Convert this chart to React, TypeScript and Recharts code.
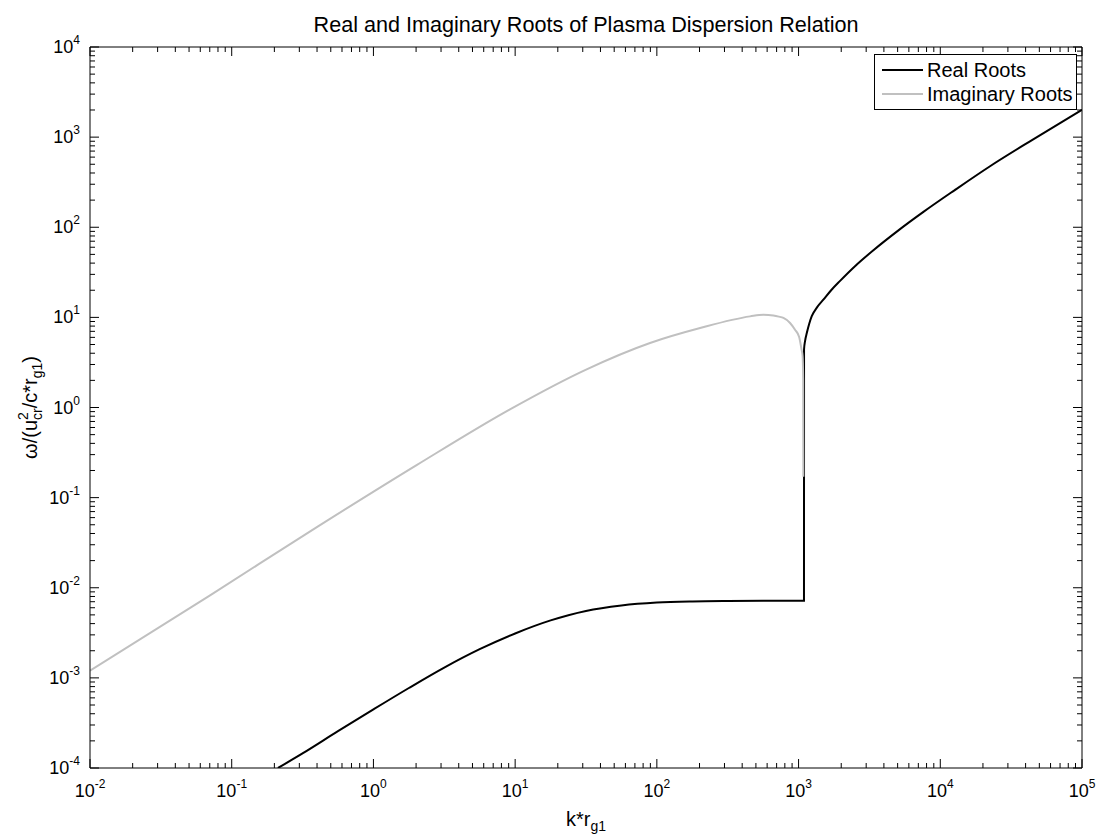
import { LineChart, Line, XAxis, YAxis, Legend } from 'recharts';

// Real roots (black): k*r_g1 and omega
const realK = [0.212, 0.316, 0.562, 1, 1.78, 3.16, 5.62, 10, 17.8, 31.6, 56.2, 100, 178, 316, 562, 1000, 1092, 1093, 1112, 1143, 1189, 1239, 1349, 1496, 1698, 1963, 2512, 3373, 5012, 7603, 12590, 22440, 44670, 100000];
const realW = [1.0e-4, 1.45e-4, 2.56e-4, 4.47e-4, 7.72e-4, 1.3e-3, 2.08e-3, 3.11e-3, 4.34e-3, 5.53e-3, 6.35e-3, 6.84e-3, 7.05e-3, 7.13e-3, 7.16e-3, 7.18e-3, 7.18e-3, 4.4, 5.5, 6.7, 8.5, 10.3, 12.9, 15.7, 20.0, 25.4, 37.2, 55.6, 91.2, 148, 257, 475, 933, 2010];

// Imaginary roots (grey)
const imagK = [0.01, 0.0708, 0.404, 2.03, 9.06, 31.4, 89.5, 202, 455, 565, 664, 725, 782, 871, 944, 1008, 1050, 1068, 1078, 1081];
const imagW = [1.2e-3, 8.3e-3, 0.0477, 0.231, 0.942, 2.62, 5.2, 7.62, 10.26, 10.7, 10.5, 10.2, 9.85, 8.67, 7.3, 6.1, 4.38, 3.7, 2.03, 0.17];

const seriesNames = ['Real Roots', 'Imaginary Roots'];

// axis decades and minor multipliers
const xDecades = [-2, -1, 0, 1, 2, 3, 4, 5];
const yDecades = [-4, -3, -2, -1, 0, 1, 2, 3, 4];
const minorSteps = [2, 3, 4, 5, 6, 7, 8, 9];

const realData = realK.map((k, i) => ({ k, v: realW[i] }));
const imagData = imagK.map((k, i) => ({ k, v: imagW[i] }));

function buildTicks(decades: number[]) {
  const out: number[] = [];
  decades.forEach((d, i) => {
    out.push(Math.pow(10, d));
    if (i < decades.length - 1) minorSteps.forEach((m) => out.push(m * Math.pow(10, d)));
  });
  return out;
}
const xTicks = buildTicks(xDecades);
const yTicks = buildTicks(yDecades);

const FONT = '"Liberation Sans", Arial, Helvetica, sans-serif';
const MAJOR = 9;
const MINOR = 5;

const isMajor = (v: number) => Math.abs(Math.log10(v) - Math.round(Math.log10(v))) < 1e-6;
const expOf = (v: number) => String(Math.round(Math.log10(v)));

const BottomTick = (props: any) => {
  const { x, y, payload } = props;
  const major = isMajor(payload.value);
  return (
    <g>
      <line x1={x} x2={x} y1={y} y2={y - (major ? MAJOR : MINOR)} stroke="#000" />
      {major && (
        <text x={x} y={y + 29} textAnchor="middle" fontSize={18} fontFamily={FONT} fill="#000">
          10<tspan dy={-9} fontSize={12}>{expOf(payload.value)}</tspan>
        </text>
      )}
    </g>
  );
};

const TopTick = (props: any) => {
  const { x, y, payload } = props;
  const major = isMajor(payload.value);
  return <line x1={x} x2={x} y1={y} y2={y + (major ? MAJOR : MINOR)} stroke="#000" />;
};

const LeftTick = (props: any) => {
  const { x, y, payload } = props;
  const major = isMajor(payload.value);
  return (
    <g>
      <line x1={x} x2={x + (major ? MAJOR : MINOR)} y1={y} y2={y} stroke="#000" />
      {major && (
        <text x={x - 10} y={y + 6} textAnchor="end" fontSize={18} fontFamily={FONT} fill="#000">
          10<tspan dy={-9} fontSize={12}>{expOf(payload.value)}</tspan>
        </text>
      )}
    </g>
  );
};

const RightTick = (props: any) => {
  const { x, y, payload } = props;
  const major = isMajor(payload.value);
  return <line x1={x} x2={x - (major ? MAJOR : MINOR)} y1={y} y2={y} stroke="#000" />;
};

const renderTitle = (props: any) => {
  const vb = props.viewBox || { x: 90, width: 992 };
  return (
    <text x={vb.x + vb.width / 2} y={32} textAnchor="middle" fontSize={21.6} fontFamily={FONT} fill="#000">
      Real and Imaginary Roots of Plasma Dispersion Relation
    </text>
  );
};

const renderXLabel = (props: any) => {
  const vb = props.viewBox || { x: 90, width: 992 };
  return (
    <text x={vb.x + vb.width / 2} y={826} textAnchor="middle" fontSize={20} fontFamily={FONT} fill="#000">
      k*r<tspan dy={5} fontSize={14}>g1</tspan>
    </text>
  );
};

const renderYLabel = (props: any) => {
  const vb = props.viewBox || { y: 47, height: 721 };
  const cy = vb.y + vb.height / 2;
  const cx = 37;
  return (
    <text x={cx} y={cy} transform={`rotate(-90 ${cx} ${cy})`} textAnchor="middle" fontSize={20} fontFamily={FONT} fill="#000">
      ω/(u<tspan dy={-9} fontSize={14}>2</tspan>
      <tspan dx={-7.8} dy={14} fontSize={14}>cr</tspan>
      <tspan dy={-5}>/c*r</tspan>
      <tspan dy={5} fontSize={14}>g1</tspan>
      <tspan dy={-5}>)</tspan>
    </text>
  );
};

const renderLegend = (props: any) => {
  const items = [...(props.payload || [])]
    .filter((p: any) => seriesNames.includes(p.value))
    .sort((a: any, b: any) => seriesNames.indexOf(a.value) - seriesNames.indexOf(b.value));
  return (
    <div
      style={{
        width: 203,
        height: 56,
        boxSizing: 'border-box',
        border: '1px solid #000',
        background: '#fff',
        fontFamily: FONT,
        fontSize: 20,
        paddingTop: 3,
      }}
    >
      {items.map((it: any) => (
        <div key={it.value} style={{ display: 'flex', alignItems: 'center', height: 24 }}>
          <svg width={52} height={24}>
            <line x1={7} x2={48} y1={12} y2={12} stroke={it.color} strokeWidth={2} />
          </svg>
          <span style={{ lineHeight: '24px' }}>{it.value}</span>
        </div>
      ))}
    </div>
  );
};

export default function App() {
  return (
    <div style={{ position: 'absolute', left: 0, top: 0, width: 1108, height: 840, background: '#fff' }}>
      <LineChart width={1108} height={840} margin={{ top: 46, right: 25, bottom: 42, left: 30 }}>
        <XAxis
          dataKey="k"
          type="number"
          scale="log"
          domain={[0.01, 100000]}
          allowDataOverflow
          ticks={xTicks}
          interval={0}
          tickSize={0}
          tickMargin={0}
          tickLine={false}
          tick={<BottomTick />}
          axisLine={{ stroke: '#000' }}
          height={30}
          label={renderXLabel}
        />
        <XAxis
          xAxisId="top"
          orientation="top"
          dataKey="k"
          type="number"
          scale="log"
          domain={[0.01, 100000]}
          allowDataOverflow
          ticks={xTicks}
          interval={0}
          tickSize={0}
          tickMargin={0}
          tickLine={false}
          tick={<TopTick />}
          axisLine={{ stroke: '#000' }}
          height={1}
          label={renderTitle}
        />
        <YAxis
          type="number"
          scale="log"
          domain={[0.0001, 10000]}
          allowDataOverflow
          ticks={yTicks}
          interval={0}
          tickSize={0}
          tickMargin={0}
          tickLine={false}
          tick={<LeftTick />}
          axisLine={{ stroke: '#000' }}
          width={60}
          label={renderYLabel}
        />
        <YAxis
          yAxisId="right"
          orientation="right"
          type="number"
          scale="log"
          domain={[0.0001, 10000]}
          allowDataOverflow
          ticks={yTicks}
          interval={0}
          tickSize={0}
          tickMargin={0}
          tickLine={false}
          tick={<RightTick />}
          axisLine={{ stroke: '#000' }}
          width={1}
        />
        <Legend
          layout="vertical"
          align="center"
          verticalAlign="middle"
          content={renderLegend}
          wrapperStyle={{ left: 874, top: 54, width: 203, height: 56 }}
        />
        <Line
          name="Real Roots"
          data={realData}
          dataKey="v"
          type="monotone"
          stroke="#000"
          strokeWidth={2}
          dot={false}
          activeDot={false}
          isAnimationActive={false}
        />
        <Line
          name="Imaginary Roots"
          data={imagData}
          dataKey="v"
          type="monotone"
          stroke="#c0c0c0"
          strokeWidth={2}
          dot={false}
          activeDot={false}
          isAnimationActive={false}
        />
      </LineChart>
    </div>
  );
}
